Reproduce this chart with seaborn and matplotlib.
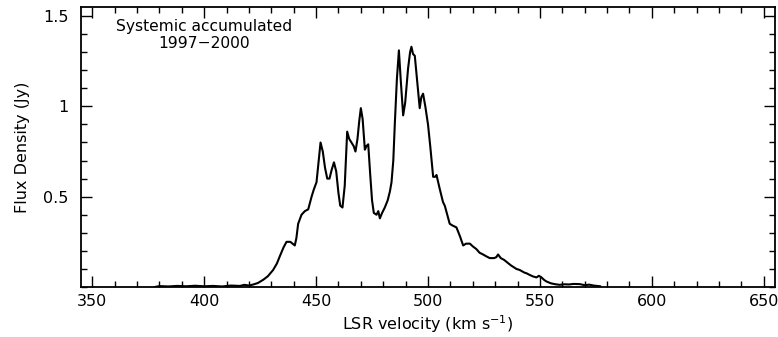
import matplotlib
matplotlib.use("Agg")
import matplotlib.pyplot as plt
import seaborn as sns
import pandas as pd
from matplotlib.ticker import MultipleLocator

velocity = [378, 380, 384, 388, 392, 396, 400, 404, 408, 412, 416, 418, 420, 422, 424,
            426.4, 428.5, 430.8, 432.5, 433.8, 435.5, 436.8, 438.5, 440.5, 441.2, 442,
            443.5, 445, 446.5, 448, 449, 450.2, 451.2, 452, 453, 454, 455, 456, 457, 458,
            459, 460, 460.8, 461.8, 462.8, 463.9, 464.8, 465.8, 466.8, 467.6, 468.5,
            469.3, 470, 470.8, 471.8, 472.5, 473.3, 474.2, 475, 475.8, 477, 477.8, 478.5,
            479.5, 480.7, 482, 483, 483.7, 484.5, 485.2, 486.1, 487, 487.8, 488.9, 489.8,
            491.1, 492, 492.6, 493.3, 494.1, 495, 496.3, 497, 497.8, 498.8, 500, 501,
            502.3, 503.2, 503.8, 505.3, 506.7, 507.5, 508.6, 509.7, 511, 512.7, 514.3,
            515.7, 517, 518.7, 520, 521.6, 523, 524.6, 526, 527.6, 529.5, 530.5, 531.3,
            532.5, 534, 535, 537, 539.5, 541, 543, 544, 545.4, 547, 548.5, 549.5, 550.5,
            552, 553, 555, 557, 558.8, 561, 563, 565, 567.8, 570, 572, 574, 577]
flux = [0.0, 0.005, 0.003, 0.006, 0.004, 0.007, 0.004, 0.006, 0.003, 0.008, 0.006, 0.012,
        0.008, 0.014, 0.022, 0.04, 0.06, 0.094, 0.13, 0.17, 0.22, 0.25, 0.25, 0.23, 0.27,
        0.35, 0.40, 0.42, 0.43, 0.50, 0.54, 0.58, 0.70, 0.80, 0.75, 0.66, 0.60, 0.60,
        0.65, 0.69, 0.64, 0.52, 0.45, 0.44, 0.56, 0.86, 0.82, 0.80, 0.78, 0.75, 0.82,
        0.92, 0.99, 0.93, 0.76, 0.78, 0.79, 0.62, 0.48, 0.41, 0.40, 0.42, 0.38, 0.41,
        0.44, 0.48, 0.53, 0.58, 0.70, 0.91, 1.15, 1.31, 1.15, 0.95, 1.02, 1.21, 1.30,
        1.33, 1.29, 1.28, 1.16, 0.99, 1.05, 1.07, 1.00, 0.90, 0.78, 0.61, 0.61, 0.62,
        0.54, 0.47, 0.45, 0.40, 0.35, 0.34, 0.33, 0.28, 0.23, 0.24, 0.24, 0.225, 0.21,
        0.19, 0.18, 0.17, 0.16, 0.16, 0.165, 0.18, 0.16, 0.15, 0.14, 0.12, 0.10, 0.094,
        0.08, 0.076, 0.067, 0.058, 0.053, 0.062, 0.055, 0.038, 0.03, 0.02, 0.015, 0.012,
        0.015, 0.014, 0.017, 0.016, 0.01, 0.013, 0.008, 0.004]

x_ticks = [350, 400, 450, 500, 550, 600, 650]
y_ticks = [0.5, 1.0, 1.5]
y_tick_labels = ["0.5", "1", "1.5"]

sns.set_theme(style="ticks")
plt.rcParams['font.family'] = ['DejaVu Sans']
plt.rcParams['text.color'] = 'black'
plt.rcParams['axes.labelcolor'] = 'black'
plt.rcParams['xtick.color'] = 'black'
plt.rcParams['ytick.color'] = 'black'

df = pd.DataFrame({"v": velocity, "f": flux})

fig = plt.figure(figsize=(7.78, 3.37), dpi=100)
ax = fig.add_axes([81/778, 1-287/337, (775-81)/778, (287-7)/337])
sns.lineplot(data=df, x="v", y="f", ax=ax, color="black", linewidth=1.5,
             estimator=None, sort=False)

ax.set_xlim(345, 655)
ax.set_ylim(0, 1.55)
ax.set_xticks(x_ticks)
ax.set_yticks(y_ticks)
ax.set_yticklabels(y_tick_labels)
ax.xaxis.set_minor_locator(MultipleLocator(10))
ax.yaxis.set_minor_locator(MultipleLocator(0.1))
ax.tick_params(which="both", direction="in", top=True, right=True, color="black",
               width=1.0, labelsize=11.5, labelcolor="black")
ax.tick_params(axis="x", which="major", length=8, pad=5)
ax.tick_params(axis="y", which="major", length=8, pad=9)
ax.tick_params(which="minor", length=4)
for s in ax.spines.values():
    s.set_linewidth(1.3)
    s.set_color("black")

ax.set_xlabel("LSR velocity (km s$^{-1}$)", fontsize=11.5, labelpad=3)
ax.set_ylabel("Flux Density (Jy)", fontsize=11.5, labelpad=9)
ax.text(0.177, 0.958, "Systemic accumulated\n1997\u22122000", transform=ax.transAxes,
        ha="center", va="top", fontsize=11.2, linespacing=1.2)

fig.savefig("out.png", dpi=100)
